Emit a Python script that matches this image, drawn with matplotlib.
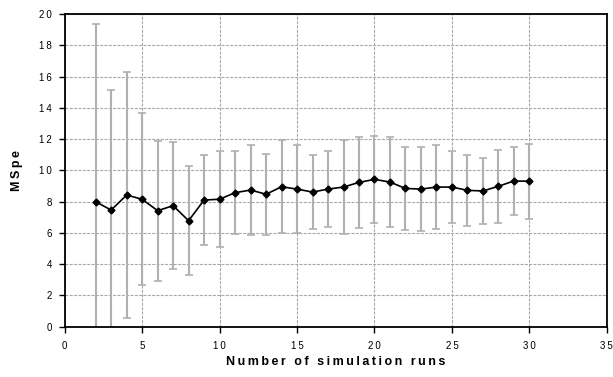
import matplotlib
matplotlib.use('Agg')
import matplotlib.pyplot as plt
from matplotlib.ticker import FuncFormatter
import numpy as np

plt.rcParams['font.family'] = ['Liberation Sans', 'DejaVu Sans']

runs = [2, 3, 4, 5, 6, 7, 8, 9, 10, 11, 12, 13, 14, 15, 16,
        17, 18, 19, 20, 21, 22, 23, 24, 25, 26, 27, 28, 29, 30]
mspe = [7.99, 7.46, 8.42, 8.15, 7.42, 7.74, 6.78, 8.10, 8.15, 8.57, 8.74, 8.47, 8.95, 8.80, 8.61,
        8.80, 8.93, 9.23, 9.42, 9.25, 8.84, 8.80, 8.93, 8.93, 8.72, 8.68, 8.98, 9.32, 9.30]
err = [11.35, 7.67, 7.86, 5.50, 4.48, 4.08, 3.49, 2.89, 3.07, 2.65, 2.88, 2.60, 2.96, 2.80, 2.35,
       2.45, 3.00, 2.93, 2.77, 2.87, 2.68, 2.67, 2.67, 2.31, 2.28, 2.12, 2.32, 2.15, 2.39]


def spaced(s):
    # excel-ish letter spacing
    return '\u2009'.join(s)


fig = plt.figure(figsize=(6.13, 3.77), dpi=100)
ax = fig.add_axes([0.1055, 0.1334, 0.8845, 0.8296])

ax.errorbar(runs, mspe, yerr=err, fmt='none', ecolor='#b0b0b0', elinewidth=1.5,
            capsize=3, capthick=1.2, zorder=2)
ax.plot(runs, mspe, color='black', lw=1.2, marker='D', ms=3.5, zorder=3)

ax.set_xlim(0, 35)
ax.set_ylim(0, 20)
ax.set_xticks(np.arange(0, 36, 5))
ax.set_yticks(np.arange(0, 21, 2))
ax.xaxis.set_major_formatter(FuncFormatter(lambda v, p: spaced('%d' % v)))
ax.yaxis.set_major_formatter(FuncFormatter(lambda v, p: spaced('%d' % v)))
ax.grid(True, color='#a8a8a8', linestyle=(0, (2.7, 1.2)), linewidth=0.8)
ax.set_axisbelow(True)

for s in ax.spines.values():
    s.set_linewidth(1.3)
    s.set_color('black')
ax.tick_params(direction='out', length=4, width=1, labelsize=7)
ax.tick_params(axis='x', pad=6)
ax.tick_params(axis='y', pad=5)

ax.set_xlabel(spaced('Number of simulation runs'), fontsize=9, fontweight='bold', labelpad=4)
ax.set_ylabel(spaced('MSpe'), fontsize=9, fontweight='bold', labelpad=12)

fig.savefig('out.png', dpi=100)
